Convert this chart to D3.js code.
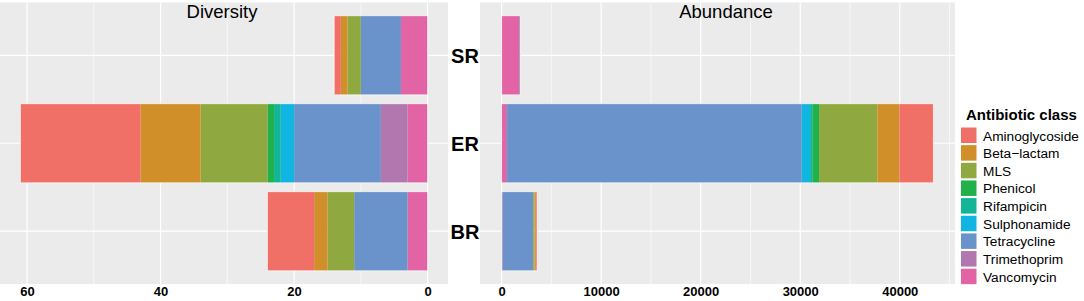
<!DOCTYPE html>
<html>
<head>
<meta charset="utf-8">
<script src="https://cdn.jsdelivr.net/npm/d3@7"></script>
<style>
  html, body { margin: 0; padding: 0; background: #fff; }
  svg { display: block; font-family: "Liberation Sans", Arial, sans-serif; }
</style>
</head>
<body>
<svg id="chart" width="1084" height="301"></svg>
<script>
// ---- data ----
const groups = ["SR", "ER", "BR"];
const classes = ["Aminoglycoside", "Beta-lactam", "MLS", "Phenicol", "Rifampicin",
                 "Sulphonamide", "Tetracycline", "Trimethoprim", "Vancomycin"];
const classLabels = ["Aminoglycoside", "Beta\u2212lactam", "MLS", "Phenicol", "Rifampicin",
                     "Sulphonamide", "Tetracycline", "Trimethoprim", "Vancomycin"];
const colors = ["#F07067", "#D18F2A", "#8FA840", "#20B14B", "#12B596",
                "#10B6E1", "#6A92CB", "#B277AE", "#E364A4"];

// diversity per group, in class order
const diversitySR = [1, 1, 2, 0, 0, 0, 6, 0, 4];
const diversityER = [18, 9, 10, 1, 1, 2, 13, 4, 3];
const diversityBR = [7, 2, 4, 0, 0, 0, 8, 0, 3];

// abundance per group, in class order
const abundanceSR = [10, 10, 20, 0, 0, 0, 60, 0, 1800];
const abundanceER = [3420, 2210, 5860, 630, 270, 840, 29600, 100, 450];
const abundanceBR = [130, 130, 130, 0, 0, 0, 3080, 0, 100];

const diversityTicks = [0, 20, 40, 60];
const diversityMinor = [10, 30, 50];
const abundanceTicks = [0, 10000, 20000, 30000, 40000];
const abundanceMinor = [5000, 15000, 25000, 35000, 45000];

const panelTitles = ["Diversity", "Abundance"];
const legendTitle = "Antibiotic class";

// ---- build tables ----
function toRows(arrs) {
  return groups.map((g, i) => {
    const r = { group: g };
    classes.forEach((c, j) => r[c] = arrs[i][j]);
    return r;
  });
}
const divRows = toRows([diversitySR, diversityER, diversityBR]);
const abRows = toRows([abundanceSR, abundanceER, abundanceBR]);

// stack from Vancomycin (at zero) outward to Aminoglycoside
const stackKeys = classes.slice().reverse();
const stack = d3.stack().keys(stackKeys);
const color = d3.scaleOrdinal().domain(classes).range(colors);

const svg = d3.select("#chart");
const panelTop = 2.5, panelBottom = 284;

const y = d3.scaleBand().domain(groups).range([panelTop, panelBottom])
  .paddingInner(0.1).paddingOuter(0.15);

function expand(maxV) {
  const e = maxV * 0.05;
  return [-e, maxV + e];
}

function drawPanel(rows, x0, x1, reversed, ticks, minor, title, titleX) {
  const maxV = d3.max(rows, r => d3.sum(classes, c => r[c]));
  const dom = expand(maxV);
  const x = d3.scaleLinear().domain(dom).range(reversed ? [x1, x0] : [x0, x1]);
  const g = svg.append("g");

  g.append("rect").attr("x", x0).attr("y", panelTop)
    .attr("width", x1 - x0).attr("height", panelBottom - panelTop)
    .attr("fill", "#EBEBEB");

  g.selectAll("line.minor").data(minor.filter(v => x(v) >= x0 && x(v) <= x1))
    .join("line").attr("class", "minor")
    .attr("x1", d => x(d)).attr("x2", d => x(d))
    .attr("y1", panelTop).attr("y2", panelBottom)
    .attr("stroke", "#fff").attr("stroke-width", 0.6);
  g.selectAll("line.major").data(ticks)
    .join("line").attr("class", "major")
    .attr("x1", d => x(d)).attr("x2", d => x(d))
    .attr("y1", panelTop).attr("y2", panelBottom)
    .attr("stroke", "#fff").attr("stroke-width", 1.2);
  g.selectAll("line.hgrid").data(groups)
    .join("line").attr("class", "hgrid")
    .attr("x1", x0).attr("x2", x1)
    .attr("y1", d => y(d) + y.bandwidth() / 2).attr("y2", d => y(d) + y.bandwidth() / 2)
    .attr("stroke", "#fff").attr("stroke-width", 1.2);

  const series = stack(rows);
  g.selectAll("g.series").data(series).join("g").attr("class", "series")
    .attr("fill", d => color(d.key))
    .selectAll("rect").data(d => d).join("rect")
    .attr("x", d => Math.min(x(d[0]), x(d[1])))
    .attr("width", d => Math.abs(x(d[1]) - x(d[0])))
    .attr("y", d => y(d.data.group))
    .attr("height", y.bandwidth());

  // light outline around each stacked bar
  g.selectAll("rect.outline").data(rows).join("rect").attr("class", "outline")
    .attr("x", r => Math.min(x(0), x(d3.sum(classes, c => r[c]))))
    .attr("width", r => Math.abs(x(d3.sum(classes, c => r[c])) - x(0)))
    .attr("y", r => y(r.group)).attr("height", y.bandwidth())
    .attr("fill", "none").attr("stroke", "#fff").attr("stroke-opacity", 0.7)
    .attr("stroke-width", 1);

  // axis
  const axis = d3.axisBottom(x).tickValues(ticks).tickSize(0).tickPadding(0).tickFormat(d3.format("d"));
  const ag = g.append("g").attr("transform", `translate(0,${panelBottom})`).call(axis);
  ag.select(".domain").remove();
  ag.selectAll("text").attr("dy", null).attr("y", 12)
    .attr("font-size", 13).attr("font-weight", "bold").attr("fill", "#000")
    .attr("font-family", "'Liberation Sans', Arial, sans-serif");

  g.append("text").attr("x", titleX).attr("y", 17.5)
    .attr("text-anchor", "middle").attr("font-size", 18.5).attr("fill", "#000")
    .text(title);
}

drawPanel(divRows, 0, 448, true, diversityTicks, diversityMinor, panelTitles[0], 222);
drawPanel(abRows, 480, 955, false, abundanceTicks, abundanceMinor, panelTitles[1], 726);

// category labels between panels
svg.append("g").selectAll("text").data(groups).join("text")
  .attr("x", 465).attr("y", d => y(d) + y.bandwidth() / 2 + 7.3)
  .attr("text-anchor", "middle").attr("font-size", 20).attr("font-weight", "bold")
  .attr("fill", "#000").text(d => d);

// legend
const lg = svg.append("g").attr("transform", "translate(961,0)");
lg.append("text").attr("x", 5).attr("y", 120).attr("font-size", 15)
  .attr("font-weight", "bold").attr("fill", "#000").text(legendTitle);
const items = lg.selectAll("g.item").data(classes).join("g").attr("class", "item")
  .attr("transform", (d, i) => `translate(0,${127.5 + i * 17.65})`);
items.append("rect").attr("width", 15.5).attr("height", 15.5)
  .attr("fill", d => color(d));
items.append("text").attr("x", 22).attr("y", 13).attr("font-size", 13.7)
  .attr("fill", "#000").text((d, i) => classLabels[i]);
</script>
</body>
</html>
